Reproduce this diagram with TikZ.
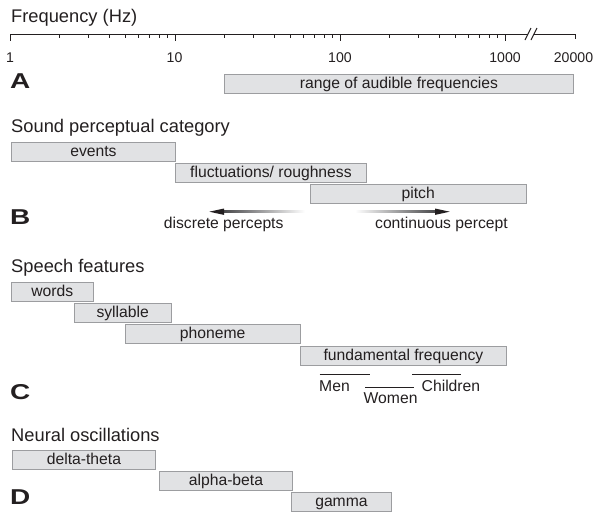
\documentclass[tikz,border=0pt]{standalone}
\usepackage{fontspec}
\setmainfont{Liberation Sans}
\definecolor{ink}{HTML}{231F20}
\definecolor{barfill}{HTML}{E1E2E4}
\definecolor{barline}{HTML}{9C9DA0}
\definecolor{arrowdark}{HTML}{4A4A4C}
\begin{document}
\begin{tikzpicture}[x=1pt,y=-1pt,
  every node/.style={inner sep=0pt, text=ink},
  bar/.style={draw=barline, fill=barfill, line width=0.9pt, minimum height=19pt, anchor=north west,
    font=\fontsize{15.7}{18}\selectfont, text height=11pt, text depth=1pt},
  heading/.style={anchor=base west, font=\fontsize{18.3}{22}\selectfont},
  panel/.style={anchor=base west, font=\fontsize{21.5}{24}\selectfont\bfseries},
  ticklabel/.style={anchor=base, font=\fontsize{14.1}{17}\selectfont},
  lbl/.style={font=\fontsize{15.7}{18}\selectfont},
  axisline/.style={draw=ink, line width=1pt},
  thinline/.style={draw=ink, line width=0.9pt},
  ]
\useasboundingbox (0,0) rectangle (597,512);

% ---------- Axis ----------
\node[heading] (freqtitle) at (11,22.7) {Frequency (Hz)};
\coordinate (ax0) at (10,34);
\coordinate (axb1) at (528,34);
\coordinate (axb2) at (534,34);
\coordinate (axend) at (575,34);
\draw[axisline] (ax0) -- (axb1);
\draw[axisline] (axb2) -- (axend);
\draw[axisline] (525,40) -- (531,28);
\draw[axisline] (531,40) -- (537,28);
\foreach \xx in {10,175,340,505} \draw[axisline] (\xx,34) -- (\xx,41);
\draw[axisline] (575,34) -- (575,39);
\foreach \k in {0,1,2} {
  \foreach \d in {2,...,9} {
    \pgfmathsetmacro\xx{10+165*(\k+log10(\d))}
    \draw[axisline] (\xx,34) -- (\xx,38);
  }
}
\node[ticklabel] (t1) at (10,62.7) {1};
\node[ticklabel] (t10) at (174.5,62.7) {10};
\node[ticklabel] (t100) at (340,62.7) {100};
\node[ticklabel] (t1000) at (505,62.7) {1000};
\node[ticklabel] (t20000) at (573.5,62.7) {20000};

% ---------- A ----------
\node[panel] (labA) at (10,88.5) {\scalebox{1.3}[1]{A}};
\node[bar, minimum width=349pt] (audible) at (224,74) {range of audible frequencies};

% ---------- B ----------
\node[heading] (soundtitle) at (11,132.3) {Sound perceptual category};
\node[bar, minimum width=164pt] (events) at (11,142) {events};
\node[bar, minimum width=191pt] (fluct) at (175,163) {fluctuations/ roughness};
\node[bar, minimum width=216.5pt] (pitch) at (309.5,184) {pitch};
\node[panel] (labB) at (10,224) {\scalebox{1.3}[1]{B}};

\coordinate (dtip) at (209.3,211.7);
\coordinate (dbaseT) at (224,208.5);
\coordinate (dbaseB) at (224,214.9);
\coordinate (dsA) at (224,210.5);
\coordinate (dsB) at (305,212.9);
\shade[left color=arrowdark, right color=white] (dsA) rectangle (dsB);
\fill[ink] (dtip) -- (dbaseT) -- (dbaseB) -- cycle;
\node[lbl, anchor=base] (discrete) at (223.7,228.3) {discrete percepts};

\coordinate (ctip) at (449.7,211.7);
\coordinate (cbaseT) at (435,208.5);
\coordinate (cbaseB) at (435,214.9);
\coordinate (csA) at (355,210.5);
\coordinate (csB) at (435,212.9);
\shade[left color=white, right color=arrowdark] (csA) rectangle (csB);
\fill[ink] (ctip) -- (cbaseT) -- (cbaseB) -- cycle;
\node[lbl, anchor=base] (continuous) at (441.5,228.3) {continuous percept};

% ---------- C ----------
\node[heading] (speechtitle) at (11,272) {Speech features};
\node[bar, minimum width=81.5pt] (words) at (11,282) {words};
\node[bar, minimum width=97.5pt] (syllable) at (73.5,303) {syllable};
\node[bar, minimum width=175.5pt] (phoneme) at (124.5,324) {phoneme};
\node[bar, minimum width=206pt] (fundamental) at (300,346) {fundamental frequency};
\node[panel] (labC) at (10,399.5) {\scalebox{1.3}[1]{C}};

\coordinate (menL) at (319.7,374);
\coordinate (menR) at (369.7,374);
\coordinate (womL) at (365.3,387.7);
\coordinate (womR) at (413.7,387.7);
\coordinate (chiL) at (412,374);
\coordinate (chiR) at (461.3,374);
\draw[thinline] (menL) -- (menR);
\draw[thinline] (womL) -- (womR);
\draw[thinline] (chiL) -- (chiR);
\node[lbl, anchor=base west] (men) at (319,391.7) {Men};
\node[lbl, anchor=base west] (women) at (363.5,403.3) {Women};
\node[lbl, anchor=base west] (children) at (421.5,391.7) {Children};

% ---------- D ----------
\node[heading] (neuraltitle) at (11,441) {Neural oscillations};
\node[bar, minimum width=143pt] (delta) at (12,449.5) {delta-theta};
\node[bar, minimum width=133pt] (alpha) at (159,470.5) {alpha-beta};
\node[bar, minimum width=100pt] (gamma) at (291,491.5) {gamma};
\node[panel] (labD) at (10,504) {\scalebox{1.3}[1]{D}};
\end{tikzpicture}
\end{document}
